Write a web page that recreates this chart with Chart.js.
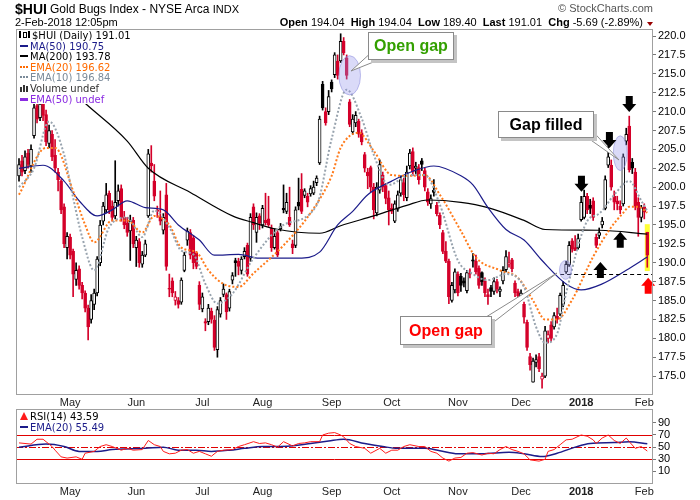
<!DOCTYPE html>
<html lang="en"><head>
<meta charset="utf-8">
<title>$HUI Gold Bugs Index</title>
<script src="https://cdn.jsdelivr.net/npm/chart.js"></script>
<style>
body  { margin:0; background:#ffffff; font-family:"Liberation Sans",Arial,sans-serif; }
#page { position:relative; width:700px; height:500px; overflow:hidden; }
.abs  { position:absolute; white-space:nowrap; }
.li   { position:absolute; left:0; height:11px; font:10px "DejaVu Sans",Verdana,sans-serif; line-height:11px; white-space:nowrap; }
.ic   { position:absolute; left:3px; top:4px; width:8px; height:2px; }
.dot  { position:absolute; left:3px; top:4px; width:8px; height:0; border-top:2px dotted; }
.tx   { position:absolute; left:13px; top:0; }
.box  { position:absolute; background:#fff; border:1px solid #8a8a8a; box-shadow:3px 3px 0 #c4c4c4;
        font:bold 16px "Liberation Sans",Arial,sans-serif; text-align:center; }
</style>
<script>
// trading days 5-Apr-2017 .. 2-Feb-2018, index 0..209
var opens=[
201.5,203.5,202.2,204.5,202.8,206.8,210.8,209.2,211.2,209.6,
205.8,207.0,204.2,202.0,200.8,197.4,192.0,193.4,191.5,187.8,
189.2,187.0,186.0,184.0,182.5,184.5,186.0,190.0,195.5,197.0,
199.2,197.5,196.2,198.2,199.8,196.0,195.2,194.2,195.6,192.0,
192.8,189.8,191.0,196.2,203.2,200.8,197.0,196.0,194.3,199.0,
186.6,187.6,185.0,185.0,184.8,189.0,193.0,194.0,193.3,191.3,
187.0,183.9,182.2,182.2,183.6,182.4,178.5,183.2,185.8,185.8,
184.0,187.7,190.3,190.2,189.0,190.8,192.3,190.6,197.4,194.0,
196.2,195.0,195.6,195.8,194.6,192.0,194.0,194.5,197.2,196.8,
196.0,192.5,192.3,198.0,199.7,198.9,198.8,199.1,199.2,200.6,
203.2,213.6,210.0,210.0,213.9,214.9,216.7,216.7,219.3,217.1,
211.3,207.3,208.5,208.7,207.2,204.3,202.0,202.6,200.0,196.6,
199.6,201.6,200.2,198.6,197.2,195.5,197.1,199.2,200.6,198.6,
202.8,204.7,202.5,202.6,203.5,202.2,199.4,197.8,199.6,197.6,
196.3,194.0,191.5,190.2,185.0,186.4,188.5,188.2,187.6,186.3,
188.6,190.4,190.2,189.3,188.7,187.6,185.8,186.7,186.2,187.5,
186.2,187.6,189.1,189.8,190.4,187.3,186.2,185.3,184.5,182.1,
177.6,174.2,176.8,177.6,174.6,175.0,180.0,181.8,181.5,182.9,
183.2,184.5,188.8,189.7,192.9,192.0,192.0,195.7,196.0,198.8,
197.6,198.2,193.4,193.6,195.0,197.2,202.9,202.9,198.8,198.2,
197.5,197.8,206.1,208.1,203.3,202.0,198.0,196.0,197.4,194.04];
var highs=[
203.8,204.2,204.8,205.0,205.6,211.2,211.8,211.8,212.0,210.2,
208.2,207.5,206.3,202.5,201.0,197.8,194.0,193.8,191.8,190.0,
189.6,187.4,186.3,184.4,185.8,186.5,190.8,195.6,198.0,200.5,
199.5,198.2,203.5,200.3,200.3,196.8,196.0,196.3,196.0,193.5,
193.2,191.5,193.0,205.0,205.5,203.0,197.5,199.5,196.5,200.5,
188.5,188.0,186.2,185.4,188.0,191.4,194.6,194.4,193.6,191.5,
187.5,186.0,182.6,184.5,184.0,183.0,184.2,185.4,187.2,186.0,
186.5,188.7,190.6,190.6,190.8,192.0,192.6,196.5,197.8,196.6,
196.5,197.6,199.2,198.8,195.0,194.5,194.3,195.2,200.3,199.2,
200.0,193.0,197.4,201.2,201.8,199.8,199.2,200.2,200.8,201.5,
209.4,214.0,210.5,212.8,214.2,217.8,217.5,220.3,219.8,217.5,
211.6,209.6,210.0,209.0,207.6,204.6,202.5,202.8,200.5,200.6,
203.6,202.0,200.5,199.5,197.8,198.2,199.5,201.5,201.2,202.8,
205.0,205.2,203.3,203.0,203.8,202.5,199.8,199.0,201.0,198.0,
196.6,194.3,192.8,190.5,187.4,189.2,188.8,188.6,188.0,189.0,
189.2,191.2,191.0,189.6,188.8,188.0,186.5,187.0,188.0,187.8,
186.8,189.5,191.6,191.4,190.6,187.6,186.5,186.4,184.8,182.4,
178.0,177.4,177.8,178.0,175.4,181.6,181.0,182.2,183.4,184.0,
186.0,187.5,190.2,192.8,193.2,193.6,193.8,198.8,199.6,199.2,
198.4,198.6,193.8,194.6,196.0,201.5,205.4,203.6,199.5,198.8,
198.2,204.4,207.8,209.4,203.8,202.5,198.6,197.6,197.8,194.04];
var lows=[
200.8,201.5,201.8,202.5,202.0,206.5,208.5,208.8,208.8,205.5,
205.2,203.5,202.0,199.5,196.5,192.0,190.5,190.5,185.5,187.0,
186.5,185.2,183.5,179.8,182.0,183.8,185.6,189.6,195.0,196.6,
196.5,195.5,195.8,197.5,195.5,194.5,193.5,190.3,192.0,189.5,
189.4,189.4,190.8,196.0,202.0,198.2,196.0,195.0,193.8,189.0,
185.5,185.5,184.4,184.0,184.5,188.8,192.3,190.5,189.2,189.2,
183.8,183.5,181.0,181.8,182.0,178.4,177.5,182.8,185.5,182.5,
183.6,187.2,188.2,188.4,188.5,190.5,188.2,190.2,194.4,192.7,
194.4,194.6,195.0,194.8,191.5,191.8,190.8,194.2,196.6,196.5,
194.8,191.2,192.0,197.0,196.5,198.6,197.4,198.8,199.0,200.2,
203.0,210.2,208.2,209.6,212.6,214.5,214.3,216.5,217.5,214.3,
208.0,207.0,208.0,206.6,205.6,202.0,199.8,199.4,195.8,196.2,
199.2,199.4,197.8,195.0,196.5,195.3,196.8,198.8,198.2,198.2,
202.4,201.5,201.8,200.4,202.2,199.5,197.6,197.2,198.8,196.2,
194.5,191.2,190.0,184.6,184.8,186.0,185.6,186.2,186.8,186.0,
188.0,189.4,188.5,186.6,187.0,185.5,184.5,185.5,185.8,186.0,
185.5,187.2,188.8,189.4,188.8,185.5,185.2,185.0,182.0,178.4,
175.8,174.2,176.2,175.6,173.4,174.8,179.4,179.6,181.2,182.0,
183.0,184.2,188.6,189.5,191.4,191.6,191.8,195.5,195.8,196.5,
196.5,195.6,192.0,193.2,194.6,197.0,202.6,199.6,197.0,197.0,
196.5,197.5,205.6,202.0,201.8,197.0,193.5,195.4,195.8,189.40];
var closes=[
203.0,202.0,204.0,203.0,205.0,210.5,209.0,211.0,209.5,206.0,
207.5,204.0,202.5,201.0,197.0,192.5,193.5,191.0,188.5,189.0,
187.0,186.0,184.0,181.5,185.0,186.0,190.5,195.0,197.5,199.0,
197.0,196.0,198.0,199.5,196.0,195.0,194.0,195.5,192.5,193.0,
190.0,191.0,192.5,204.4,202.8,198.8,196.8,195.5,196.0,189.5,
186.5,186.0,185.5,184.5,187.7,191.0,194.2,191.0,190.0,189.5,
184.5,185.5,182.0,184.0,182.5,178.8,183.8,185.0,186.5,183.5,
186.2,188.3,190.0,189.5,190.5,191.5,188.5,196.0,195.0,196.0,
195.2,197.2,195.3,195.0,192.0,193.5,191.0,194.8,197.0,198.0,
195.0,192.0,197.0,197.5,196.8,199.5,198.0,199.8,200.0,201.2,
209.0,210.5,208.5,212.0,213.0,217.5,214.8,219.3,217.8,214.8,
208.3,209.0,209.5,207.0,206.0,202.5,201.5,200.0,197.0,200.0,
203.0,200.0,198.5,197.0,196.8,197.8,199.0,201.0,199.0,202.0,
204.5,202.0,202.8,201.0,203.0,200.0,198.0,198.5,199.3,196.5,
195.0,191.5,190.2,185.5,187.0,188.8,186.0,187.0,187.3,188.7,
188.5,190.2,188.8,187.0,187.5,186.0,185.5,186.2,187.5,186.5,
186.5,189.0,190.8,190.0,189.2,186.0,185.6,186.0,182.8,178.8,
176.5,177.0,177.2,176.0,175.0,181.0,180.5,180.0,183.0,182.5,
185.7,187.0,189.8,192.3,191.8,191.6,193.2,198.0,198.8,197.0,
197.2,196.0,192.3,194.0,195.5,201.0,204.0,200.0,198.0,197.8,
197.0,204.0,207.0,202.3,202.5,197.5,196.0,197.3,196.7,191.01];

// overlays as [day index, value]
var ma50=[[0,202.5],[8,202.9],[15,200.8],[20,198.2],[26,196.2],[31,197.0],[36,198.2],[42,197.3],[48,197.0],
  [53,195.0],[60,193.0],[65,191.0],[73,191.1],[80,190.6],[93,190.6],[100,191.4],[106,195.0],[111,196.8],
  [116,199.0],[124,200.8],[131,202.1],[138,202.8],[147,201.5],[151,200.3],[156,197.3],[162,194.4],
  [168,193.0],[174,190.3],[182,187.2],[187,186.4],[194,187.2],[202,189.0],[209,190.75]];
var ma200=[[0,218.8],[10,215.5],[22,211.1],[36,206.1],[43,202.5],[57,199.3],[71,196.2],[78,195.3],[85,194.5],
  [100,193.9],[107,194.9],[118,196.2],[129,197.6],[136,198.3],[147,198.0],[156,197.3],[168,195.6],
  [175,194.4],[193,194.3],[209,193.78]];
var ema20=[[0,199.0],[9,205.2],[12,205.2],[18,199.5],[22,195.0],[25,192.7],[31,195.6],[36,195.6],[41,194.0],
  [45,196.2],[50,195.0],[54,192.0],[59,191.4],[63,189.0],[68,187.2],[73,186.8],[78,188.6],[88,192.3],
  [97,196.6],[104,201.5],[107,205.2],[113,207.2],[118,204.8],[124,201.6],[130,201.5],[135,201.6],
  [140,199.0],[147,194.2],[152,190.7],[160,189.0],[166,188.0],[171,185.0],[175,182.5],[179,182.5],
  [184,185.1],[191,190.8],[197,194.7],[201,196.6],[203,197.4],[206,197.4],[209,196.62]];
var ema10=[[0,200.0],[5,202.5],[10,208.7],[15,204.3],[18,198.6],[21,193.4],[25,189.0],[30,194.7],[36,196.0],
  [41,193.4],[45,196.9],[50,194.7],[54,191.6],[58,191.1],[62,187.2],[66,184.6],[71,185.9],[78,190.6],
  [88,195.0],[99,197.6],[104,206.4],[109,212.9],[114,209.1],[118,204.3],[123,200.3],[130,201.6],
  [135,201.6],[140,197.7],[146,190.3],[151,188.5],[156,187.7],[162,188.5],[168,186.8],[172,181.5],
  [175,179.4],[179,180.6],[182,186.0],[189,195.5],[193,196.5],[198,199.0],[203,200.8],[207,198.2],[209,196.84]];

var rsi=[[0,57],[4,55],[6,63],[8,63],[9,59],[11,51],[12,45],[14,34],[16,32],[19,34],[21,30],[22,40],[25,43],
  [27,51],[29,54],[31,51],[34,45],[36,48],[38,45],[41,46],[43,61],[45,54],[47,51],[48,43],[50,39],[52,40],
  [54,45],[56,46],[58,40],[60,43],[62,39],[64,35],[66,43],[68,45],[71,46],[73,51],[75,54],[78,59],[80,56],
  [82,57],[84,54],[86,50],[88,59],[91,52],[93,56],[95,57],[97,59],[100,59],[101,70],[103,73],[105,74],
  [107,70],[108,67],[110,56],[112,51],[115,48],[117,40],[120,48],[122,40],[124,45],[126,45],[128,51],
  [130,54],[133,51],[135,51],[137,43],[139,40],[141,32],[143,27],[145,32],[147,33],[149,40],[151,41],
  [154,37],[156,40],[158,39],[160,46],[162,51],[164,46],[166,43],[168,39],[170,29],[173,27],[175,30],
  [176,43],[178,46],[180,54],[182,62],[184,63],[187,70],[189,68],[191,62],[192,56],[194,65],[196,70],
  [198,61],[200,56],[202,65],[203,59],[205,48],[207,51],[209,43.59]];
var rsiEma=[[0,50],[9,55],[15,51],[20,43],[26,43],[31,46],[42,48],[48,50],[53,45],[59,45],[64,43],[70,45],
  [75,48],[81,51],[87,51],[92,52.5],[97,56],[103,60],[108,63],[115,56],[121,51],[126,48],[135,48],[140,44],
  [146,39],[154,39],[163,41.5],[168,39],[174,34.5],[179,40],[185,50],[190,56],[198,57.5],[203,59],[209,55.49]];

var monthTicks=[17,39,61,81,104,124,146,167,187,208];
var monthLabels=['May','Jun','Jul','Aug','Sep','Oct','Nov','Dec','2018','Feb'];
var priceTicks=[175,177.5,180,182.5,185,187.5,190,192.5,195,197.5,200,202.5,205,207.5,210,212.5,215,217.5,220];
var rsiTicks=[10,30,50,70,90];
var rsiLevels=[30,50,70];

var FONT='"Liberation Sans",Arial,sans-serif';
var RED='#d4002a';

function xy(list) { return list.map(function(p){ return {x:p[0],y:p[1]}; }); }

function xAxis(h) {
  return {type:'linear',min:-1,max:210.9,offset:false,
    afterBuildTicks:function(s){ s.ticks=monthTicks.map(function(v){ return {value:v}; }); },
    afterFit:function(s){ s.height=h; },
    ticks:{autoSkip:false,maxRotation:0,padding:1,color:'#222',
      callback:function(v){ return monthLabels[monthTicks.indexOf(v)]; },
      font:function(c){ return {family:FONT,size:11,weight:(c.tick && c.tick.value==187)?'bold':'normal'}; }},
    grid:{drawOnChartArea:false,drawTicks:false},border:{display:false}};
}

function frame(chart) {
  var a=chart.chartArea, ctx=chart.ctx;
  ctx.save(); ctx.strokeStyle='#a0a0a0'; ctx.lineWidth=1;
  ctx.strokeRect(a.left+0.5,a.top+0.5,a.right-a.left-1,a.bottom-a.top-1); ctx.restore();
}

function arrow(ctx,x,tip,dir,color) {
  // dir 1 = pointing down, -1 = pointing up
  ctx.save(); ctx.fillStyle=color; ctx.beginPath();
  ctx.moveTo(x,tip); ctx.lineTo(x-7,tip-8*dir); ctx.lineTo(x-3.5,tip-8*dir); ctx.lineTo(x-3.5,tip-16*dir);
  ctx.lineTo(x+3.5,tip-16*dir); ctx.lineTo(x+3.5,tip-8*dir); ctx.lineTo(x+7,tip-8*dir); ctx.closePath();
  ctx.fill(); ctx.restore();
}

function ellipse(ctx,xs,ys,i,p,di,dp) {
  var cx=xs.getPixelForValue(i), cy=ys.getPixelForValue(p);
  var rx=Math.abs(xs.getPixelForValue(i+di)-cx), ry=Math.abs(ys.getPixelForValue(p+dp)-cy);
  ctx.save(); ctx.fillStyle='rgba(150,150,235,0.35)'; ctx.strokeStyle='rgba(140,140,220,0.55)';
  ctx.beginPath(); ctx.ellipse(cx,cy,rx,ry,0,0,Math.PI*2); ctx.fill(); ctx.stroke(); ctx.restore();
}

function tail(ctx,pts) {
  ctx.save(); ctx.fillStyle='#fff'; ctx.strokeStyle='#8a8a8a'; ctx.lineWidth=1;
  ctx.beginPath(); ctx.moveTo(pts[0][0],pts[0][1]); ctx.lineTo(pts[1][0],pts[1][1]); ctx.lineTo(pts[2][0],pts[2][1]);
  ctx.closePath(); ctx.fill(); ctx.stroke(); ctx.restore();
}

var priceMarks={id:'priceMarks',
  beforeDatasetsDraw:function(chart){
    var ctx=chart.ctx, xs=chart.scales.x, ys=chart.scales.y;
    var x0=xs.getPixelForValue(208), x1=xs.getPixelForValue(210);
    var y0=ys.getPixelForValue(195.1), y1=ys.getPixelForValue(188.9);
    ctx.save(); ctx.fillStyle='#ffff33'; ctx.fillRect(x0+0.5,y0,x1-x0-1,y1-y0); ctx.restore();
  },
  afterDatasetsDraw:function(chart){
    var ctx=chart.ctx, xs=chart.scales.x, ys=chart.scales.y, a=chart.chartArea;
    // open gap line
    var gy=Math.round(ys.getPixelForValue(188.5))+0.5;
    ctx.save(); ctx.strokeStyle='#000'; ctx.lineWidth=1; ctx.setLineDash([4,3]);
    ctx.beginPath(); ctx.moveTo(xs.getPixelForValue(180),gy); ctx.lineTo(a.right,gy); ctx.stroke(); ctx.restore();
    ellipse(ctx,xs,ys,110,214.8,3.6,2.6);
    ellipse(ctx,xs,ys,200,204.5,2.3,2.3);
    ellipse(ctx,xs,ys,181.8,189.05,2.0,1.25);
    arrow(ctx,xs.getPixelForValue(187.1),ys.getPixelForValue(199.4),1,'#000');
    arrow(ctx,xs.getPixelForValue(196.4),ys.getPixelForValue(205.2),1,'#000');
    arrow(ctx,xs.getPixelForValue(203),ys.getPixelForValue(209.95),1,'#000');
    arrow(ctx,xs.getPixelForValue(193.4),ys.getPixelForValue(190.1),-1,'#000');
    arrow(ctx,xs.getPixelForValue(200),ys.getPixelForValue(194.1),-1,'#000');
    arrow(ctx,xs.getPixelForValue(209.3),ys.getPixelForValue(188.0),-1,'#ff0000');
    tail(ctx,[[374,50],[386,57],[351,71]]);
    tail(ctx,[[578,131],[588,126],[619,160]]);
    tail(ctx,[[478,322],[486,328],[557,273]]);
  },
  afterDraw:frame};

var rsiMarks={id:'rsiMarks',
  beforeDatasetsDraw:function(chart){
    var ctx=chart.ctx, ys=chart.scales.y, a=chart.chartArea;
    rsiLevels.forEach(function(v){
      var y=Math.round(ys.getPixelForValue(v))+0.5;
      ctx.save(); ctx.strokeStyle='#e00000'; ctx.lineWidth=1;
      if (v==50) { ctx.setLineDash([7,2,2,2]); }
      ctx.beginPath(); ctx.moveTo(a.left,y); ctx.lineTo(a.right,y); ctx.stroke(); ctx.restore();
    });
  },
  afterDraw:frame};

function initChart() {
  var colors=closes.map(function(c,i){ var prev=i>0?closes[i-1]:opens[i]; return c>=prev?'#000000':RED; });
  var fills=closes.map(function(c,i){ return c>opens[i]?'#ffffff':colors[i]; });

  new Chart(document.getElementById('priceChart'),{type:'bar',
    data:{datasets:[
      {type:'bar',data:closes.map(function(c,i){ return {x:i,y:[lows[i],highs[i]]}; }),
        backgroundColor:colors,barThickness:1,grouped:false,order:5},
      {type:'bar',data:closes.map(function(c,i){ return {x:i,y:[opens[i],c]}; }),
        backgroundColor:fills,borderColor:colors,borderWidth:1,borderSkipped:false,barThickness:3,grouped:false,order:4},
      {type:'line',data:xy(ma200),borderColor:'#000000',borderWidth:1.2,pointRadius:0,cubicInterpolationMode:'monotone',order:3},
      {type:'line',data:xy(ma50),borderColor:'#1c1c8a',borderWidth:1.2,pointRadius:0,cubicInterpolationMode:'monotone',order:2},
      {type:'line',data:xy(ema20),borderColor:'#ff7a1a',borderWidth:2,borderDash:[2,2],pointRadius:0,cubicInterpolationMode:'monotone',order:1},
      {type:'line',data:xy(ema10),borderColor:'#98a3ae',borderWidth:2,borderDash:[2,2],pointRadius:0,cubicInterpolationMode:'monotone',order:0}]},
    options:{responsive:true,maintainAspectRatio:false,animation:false,
      layout:{padding:{left:16,top:29,right:0,bottom:0}},
      plugins:{legend:{display:false},tooltip:{enabled:false}},
      scales:{x:xAxis(17),
        y:{position:'right',min:172.5,max:220.93,
          afterBuildTicks:function(s){ s.ticks=priceTicks.map(function(v){ return {value:v}; }); },
          afterFit:function(s){ s.width=47; },
          ticks:{padding:2,color:'#000',font:{family:FONT,size:11},callback:function(v){ return v.toFixed(1); }},
          grid:{drawOnChartArea:false,tickLength:3,color:'#777'},border:{display:false}}}},
    plugins:[priceMarks]});

  new Chart(document.getElementById('rsiChart'),{type:'line',
    data:{datasets:[
      {data:xy(rsiEma),borderColor:'#1c1c8a',borderWidth:1.5,pointRadius:0,cubicInterpolationMode:'monotone',order:1},
      {data:xy(rsi),borderColor:'#ff1a1a',borderWidth:1,pointRadius:0,tension:0,order:0}]},
    options:{responsive:true,maintainAspectRatio:false,animation:false,
      layout:{padding:{left:16,top:9,right:0,bottom:0}},
      plugins:{legend:{display:false},tooltip:{enabled:false}},
      scales:{x:xAxis(16),
        y:{position:'right',min:-10.7,max:112.8,
          afterBuildTicks:function(s){ s.ticks=rsiTicks.map(function(v){ return {value:v}; }); },
          afterFit:function(s){ s.width=47; },
          ticks:{padding:2,color:'#000',font:{family:FONT,size:11}},
          grid:{drawOnChartArea:false,tickLength:3,color:'#777'},border:{display:false}}}},
    plugins:[rsiMarks]});
}
</script></head>
<body onload="initChart();">
<div id="page">
  <div class="abs" style="left:0;top:0;width:700px;height:412px;"><canvas id="priceChart"></canvas></div>
  <div class="abs" style="left:0;top:400px;width:700px;height:100px;"><canvas id="rsiChart"></canvas></div>

  <div class="abs" style="left:15px;top:1px;font:bold 14px 'Liberation Sans',Arial,sans-serif;">$HUI</div>
  <div class="abs" style="left:50px;top:2px;font:12px 'Liberation Sans',Arial,sans-serif;">Gold Bugs Index - NYSE Arca <span style="font-size:11px">INDX</span></div>
  <div class="abs" style="left:15px;top:16px;font:11px 'Liberation Sans',Arial,sans-serif;">2-Feb-2018 12:05pm</div>
  <div class="abs" style="right:47px;top:2px;font:11px 'Liberation Sans',Arial,sans-serif;color:#555;">&copy; StockCharts.com</div>
  <div class="abs" style="right:57px;top:16px;font:11px 'Liberation Sans',Arial,sans-serif;">
    <b>Open</b> 194.04 &nbsp;<b>High</b> 194.04 &nbsp;<b>Low</b> 189.40 &nbsp;<b>Last</b> 191.01 &nbsp;<b>Chg</b> -5.69 (-2.89%)</div>
  <div class="abs" style="left:647px;top:22px;width:0;height:0;border-left:3px solid transparent;border-right:3px solid transparent;border-top:4px solid #990000;"></div>

  <div class="abs" style="left:17px;top:30px;width:127px;height:74px;background:#fff;">
    <div class="li" style="top:0px;"><span class="abs" style="left:2px;top:1px;width:2px;height:7px;background:#000;"></span><span class="abs" style="left:6px;top:2px;width:2px;height:4px;border:1px solid #000;"></span><span class="abs" style="left:11px;top:1px;width:2px;height:7px;background:#000;"></span><span class="tx" style="left:15px;">$HUI (Daily) 191.01</span></div>
    <div class="li" style="top:10.6px;color:#1c1c8a;"><span class="ic" style="background:#1c1c8a;"></span><span class="tx">MA(50) 190.75</span></div>
    <div class="li" style="top:21.2px;color:#000;"><span class="ic" style="background:#000;"></span><span class="tx">MA(200) 193.78</span></div>
    <div class="li" style="top:31.8px;color:#ff6a00;"><span class="dot" style="border-color:#ff6a00;"></span><span class="tx">EMA(20) 196.62</span></div>
    <div class="li" style="top:42.4px;color:#7a8a99;"><span class="dot" style="border-color:#7a8a99;"></span><span class="tx">EMA(10) 196.84</span></div>
    <div class="li" style="top:53px;color:#333;"><span class="abs" style="left:3px;top:4px;width:2px;height:5px;background:#333;"></span><span class="abs" style="left:6px;top:2px;width:2px;height:7px;background:#333;"></span><span class="abs" style="left:9px;top:3px;width:2px;height:6px;background:#333;"></span><span class="tx">Volume undef</span></div>
    <div class="li" style="top:63.6px;color:#8a2be2;"><span class="ic" style="background:#8a2be2;height:3px;"></span><span class="tx">EMA(50) undef</span></div>
  </div>

  <div class="abs" style="left:17px;top:411px;width:110px;height:22px;">
    <div class="li" style="top:0px;"><span class="abs" style="left:3px;top:1px;width:0;height:0;border-left:4px solid transparent;border-right:4px solid transparent;border-bottom:8px solid #ff1a1a;"></span><span class="tx">RSI(14) 43.59</span></div>
    <div class="li" style="top:11px;color:#1c1c8a;"><span class="ic" style="background:#1c1c8a;"></span><span class="tx">EMA(20) 55.49</span></div>
  </div>

  <div class="box" style="left:368px;top:32px;width:84px;height:26px;line-height:26px;color:#33a000;">Open gap</div>
  <div class="box" style="left:498px;top:111px;width:94px;height:25px;line-height:25px;color:#000;">Gap filled</div>
  <div class="box" style="left:400px;top:316px;width:90px;height:27px;line-height:27px;color:#ff0000;">Open gap</div>
</div>
</body></html>
